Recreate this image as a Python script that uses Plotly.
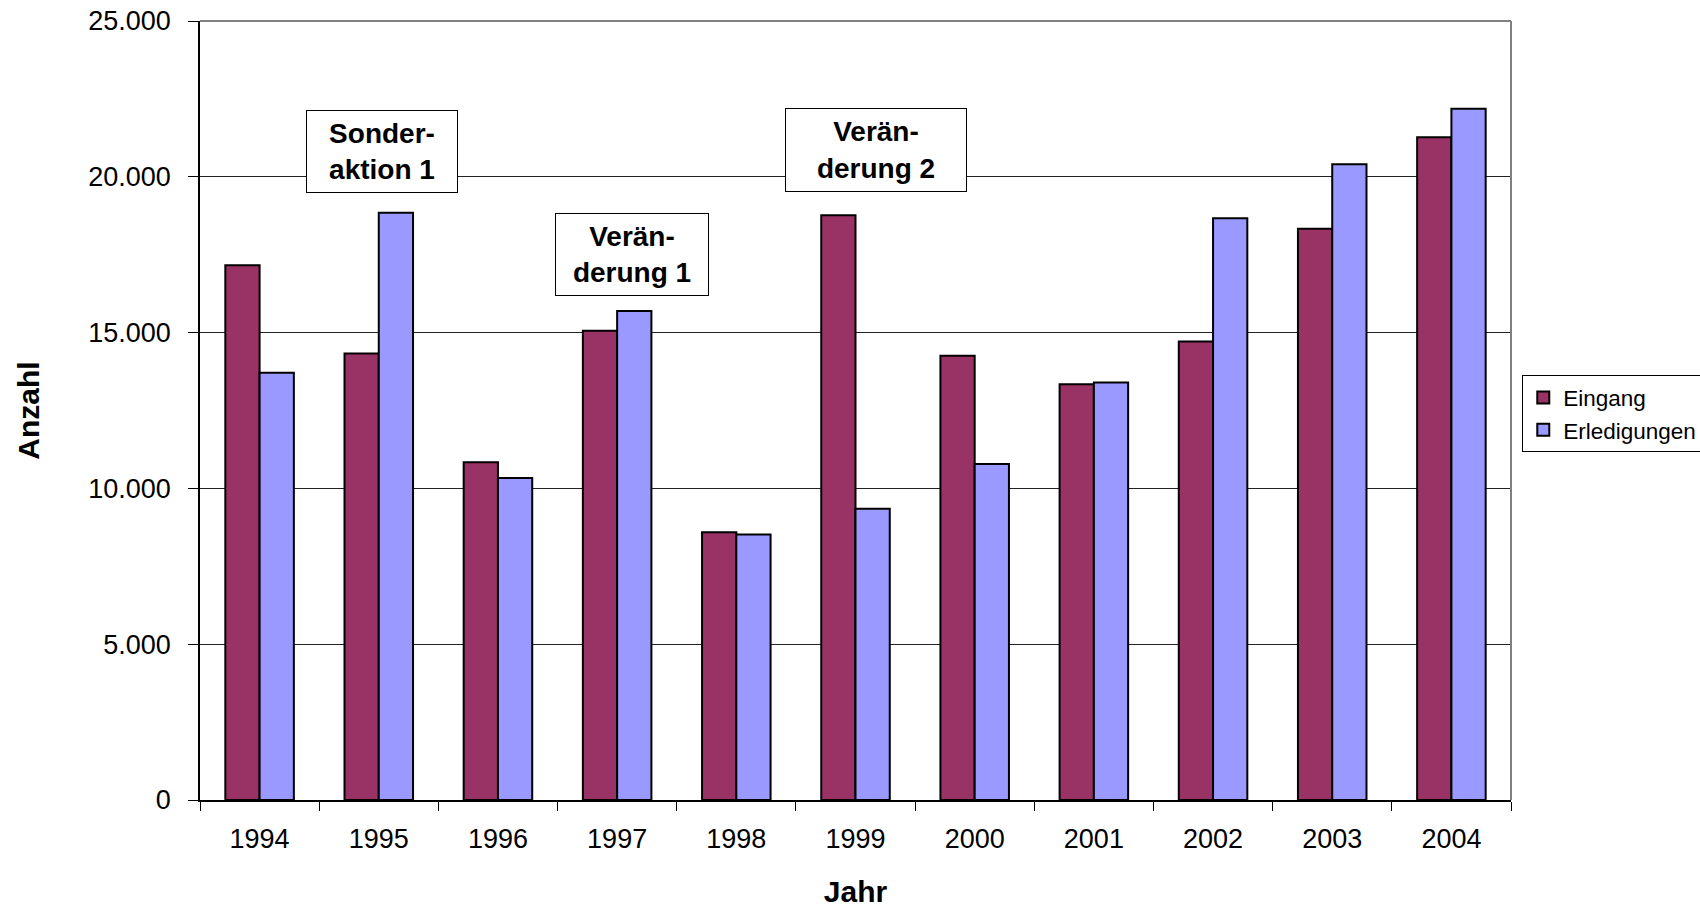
import plotly.graph_objects as go

# Jahre und Fallzahlen
jahre = ["1994", "1995", "1996", "1997", "1998", "1999",
         "2000", "2001", "2002", "2003", "2004"]
eingang = [17160, 14330, 10840, 15060, 8590, 18770,
           14260, 13345, 14715, 18330, 21270]
erledigungen = [13710, 18850, 10330, 15690, 8520, 9350,
                10780, 13400, 18670, 20405, 22185]

y_ticks = [0, 5000, 10000, 15000, 20000, 25000]

# Ereignis-Markierungen: (Text, x-Position als Kategorie-Index, y-Wert, Breite, Höhe)
ereignisse = [
    ("Sonder-<br>aktion 1", 1.031, 20815, 150, 81),
    ("Verän-<br>derung 1", 3.124, 17497, 152, 81),
    ("Verän-<br>derung 2", 5.170, 20854, 180, 82),
]

FONT = "Liberation Sans, Arial, Helvetica, sans-serif"

fig = go.Figure()
fig.add_trace(go.Bar(
    name="Eingang", x=jahre, y=eingang,
    marker=dict(color="#993366", line=dict(color="#000000", width=2)),
))
fig.add_trace(go.Bar(
    name="Erledigungen", x=jahre, y=erledigungen,
    marker=dict(color="#9999FF", line=dict(color="#000000", width=2)),
))

annotations = []
for text, xi, yv, w, h in ereignisse:
    annotations.append(dict(
        text=text, x=xi, y=yv, xref="x", yref="y",
        xanchor="center", yanchor="middle", showarrow=False,
        font=dict(family=FONT, size=28, color="#000000", weight="bold"),
        bgcolor="#FFFFFF", bordercolor="#000000", borderwidth=1, borderpad=0,
        width=w, height=h, align="center",
    ))

fig.update_layout(
    width=1700, height=908,
    margin=dict(l=200, r=189, t=21, b=108, autoexpand=False),
    paper_bgcolor="#FFFFFF", plot_bgcolor="#FFFFFF",
    separators=",.",
    barmode="group", bargap=0.425, bargroupgap=0,
    font=dict(family=FONT, size=27, color="#000000"),
    showlegend=True,
    legend=dict(
        x=1.0086, y=0.545, xanchor="left", yanchor="top",
        bgcolor="#FFFFFF", bordercolor="#000000", borderwidth=1,
        font=dict(family=FONT, size=22.5, color="#000000"),
        tracegroupgap=0,
    ),
    annotations=annotations,
    shapes=[
        # grauer Rahmen oben und rechts
        dict(type="line", xref="paper", yref="paper", x0=0, x1=1, y0=1, y1=1,
             line=dict(color="#808080", width=2), layer="above"),
        dict(type="line", xref="paper", yref="paper", x0=1, x1=1, y0=0, y1=1,
             line=dict(color="#808080", width=2), layer="above"),
    ],
)

fig.update_xaxes(
    type="category",
    showline=True, linecolor="#000000", linewidth=1.5,
    ticks="outside", tickson="boundaries", ticklen=9, tickcolor="#000000", tickwidth=1,
    ticklabelstandoff=14,
    showgrid=False,
    tickfont=dict(family=FONT, size=27),
    title=dict(text="Jahr", font=dict(family=FONT, size=30, weight="bold"), standoff=29),
)
fig.update_yaxes(
    range=[0, 25000], tickvals=y_ticks, tickformat=",d",
    showline=True, linecolor="#000000", linewidth=1.5,
    ticks="outside", ticklen=10, tickcolor="#000000", tickwidth=1,
    ticklabelstandoff=12,
    showgrid=True, gridcolor="#222222", gridwidth=1,
    zeroline=False,
    tickfont=dict(family=FONT, size=27),
    title=dict(text="Anzahl", font=dict(family=FONT, size=30, weight="bold"), standoff=40),
)

fig.write_html("out.html")
